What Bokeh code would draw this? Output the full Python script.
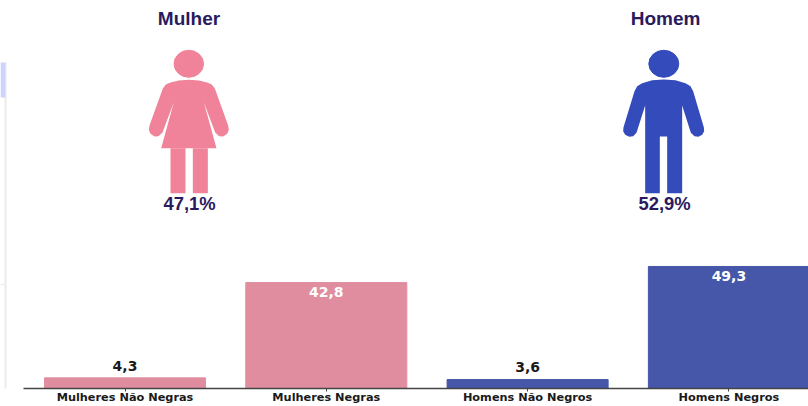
from bokeh.plotting import figure
from bokeh.models import Range1d, FixedTicker, LinearAxis, ColumnDataSource, BoxAnnotation
from bokeh.core.properties import value
from bokeh.embed import file_html
from bokeh.resources import INLINE

categories = ["Mulheres Não Negras", "Mulheres Negras", "Homens Não Negros", "Homens Negros"]
values = [4.3, 42.8, 3.6, 49.3]
value_labels = ["4,3", "42,8", "3,6", "49,3"]
label_colors = ["#1a1a1a", "#ffffff", "#1a1a1a", "#ffffff"]
label_offsets = [-12, 9, -13, 10]
bar_colors = ["#E08E9F", "#E08E9F", "#4656A8", "#4656A8"]
positions = [0, 1, 2, 3]
groups = ["Mulher", "Homem"]
shares = ["47,1%", "52,9%"]
WOMAN = "#F08399"
MAN = "#344CBB"
INK = "#2A1A5E"

W, H = 808, 406
BASE = 388
STEP = 201.3
LEFT = 124.5
UNIT = 2.475

p = figure(width=W, height=H, output_backend="svg", toolbar_location=None,
           x_range=Range1d(-LEFT / STEP, (W - LEFT) / STEP),
           y_range=Range1d(0, BASE / UNIT),
           x_axis_type=None, y_axis_type=None,
           min_border_left=0, min_border_right=0, min_border_top=0, min_border_bottom=H - BASE,
           outline_line_color=None, background_fill_color="white", border_fill_color="white")
p.grid.visible = False
p.extra_x_ranges = {"px": Range1d(0, W)}
p.extra_y_ranges = {"px": Range1d(BASE, 0)}

# left edge sliver of the neighbouring panel
p.add_layout(BoxAnnotation(left=4, right=6, top=BASE - 62, bottom=BASE - H, left_units="screen", right_units="screen",
                           top_units="screen", bottom_units="screen", fill_color="#ECECEC", fill_alpha=1,
                           line_color=None, level="underlay", editable=False))
p.quad(left=[0], right=[5], top=[62], bottom=[97], color="#CCD4FF", line_width=0, x_range_name="px", y_range_name="px")
p.quad(left=[0], right=[5], top=[283.5], bottom=[284.5], color="#E8E8E8", line_width=0, x_range_name="px", y_range_name="px")

src = ColumnDataSource(dict(x=positions, top=values, color=bar_colors, label=value_labels,
                            tc=label_colors, off=label_offsets))
p.vbar(x="x", top="top", bottom=0, width=0.8, color="color", source=src)
p.text(x="x", y="top", text="label", text_color="tc", y_offset="off", text_align="center",
       text_baseline="middle", text_font=value("DejaVu Sans"), text_font_style="bold",
       text_font_size="14px", source=src)

ax = LinearAxis(ticker=FixedTicker(ticks=positions),
                major_label_overrides={i: c for i, c in zip(positions, categories)},
                bounds=(-(LEFT - 23) / STEP, (W - LEFT) / STEP),
                axis_line_color="#444444", axis_line_width=1.5,
                major_tick_line_color="#444444", major_tick_out=3, major_tick_in=0,
                minor_tick_line_color=None,
                major_label_standoff=-1,
                major_label_text_font="DejaVu Sans", major_label_text_font_style="bold",
                major_label_text_font_size="11.3px", major_label_text_color="#1a1a1a")
p.add_layout(ax, "below")


def zoomed(pts, ox):
    return [ox + a / 3 for a, b in pts], [b / 3 for a, b in pts]


woman_body = [(175, 238), (145, 240), (120, 246), (106, 252), (97, 264), (57, 375), (55, 388), (60, 400), (72, 408), (84, 407),
              (96, 396), (130, 305), (92, 443), (258, 443), (220, 305), (254, 396), (266, 407), (278, 408),
              (290, 400), (295, 388), (293, 375), (253, 264), (244, 252), (230, 246), (205, 240)]
woman_l1 = [(120, 443), (165, 443), (165, 578), (120, 578)]
woman_l2 = [(187, 443), (232, 443), (232, 578), (187, 578)]
man_body = [(190, 237), (155, 239), (125, 248), (110, 257), (102, 272), (69, 380), (68, 392), (74, 403), (86, 409), (98, 407),
            (108, 397), (134, 315), (134, 578), (178, 578), (178, 408), (200, 408), (200, 578), (245, 578),
            (245, 315), (271, 397), (282, 407), (294, 409), (305, 403), (311, 392), (310, 380), (278, 272),
            (270, 257), (255, 248), (225, 239)]

for pts, ox, col in [(woman_body, 130, WOMAN), (woman_l1, 130, WOMAN), (woman_l2, 130, WOMAN), (man_body, 600, MAN)]:
    xs, ys = zoomed(pts, ox)
    p.patch(xs, ys, color=col, line_width=0, x_range_name="px", y_range_name="px")

p.ellipse(x=[188.3], y=[63.3], width=[29.5], height=[27], color=WOMAN, x_range_name="px", y_range_name="px")
p.ellipse(x=[663.3], y=[63.3], width=[30], height=[27], color=MAN, x_range_name="px", y_range_name="px")

p.text(x=[188.5, 665], y=[17.5, 17.5], text=groups, text_color=INK, text_align="center", text_baseline="middle",
       text_font=value("Liberation Sans"), text_font_style="bold", text_font_size="19px",
       x_range_name="px", y_range_name="px")
p.text(x=[189, 664], y=[202.5, 202.5], text=shares, text_color=INK, text_align="center", text_baseline="middle",
       text_font=value("Liberation Sans"), text_font_style="bold", text_font_size="18.4px",
       x_range_name="px", y_range_name="px")

open("out.html", "w").write(file_html(p, INLINE))
